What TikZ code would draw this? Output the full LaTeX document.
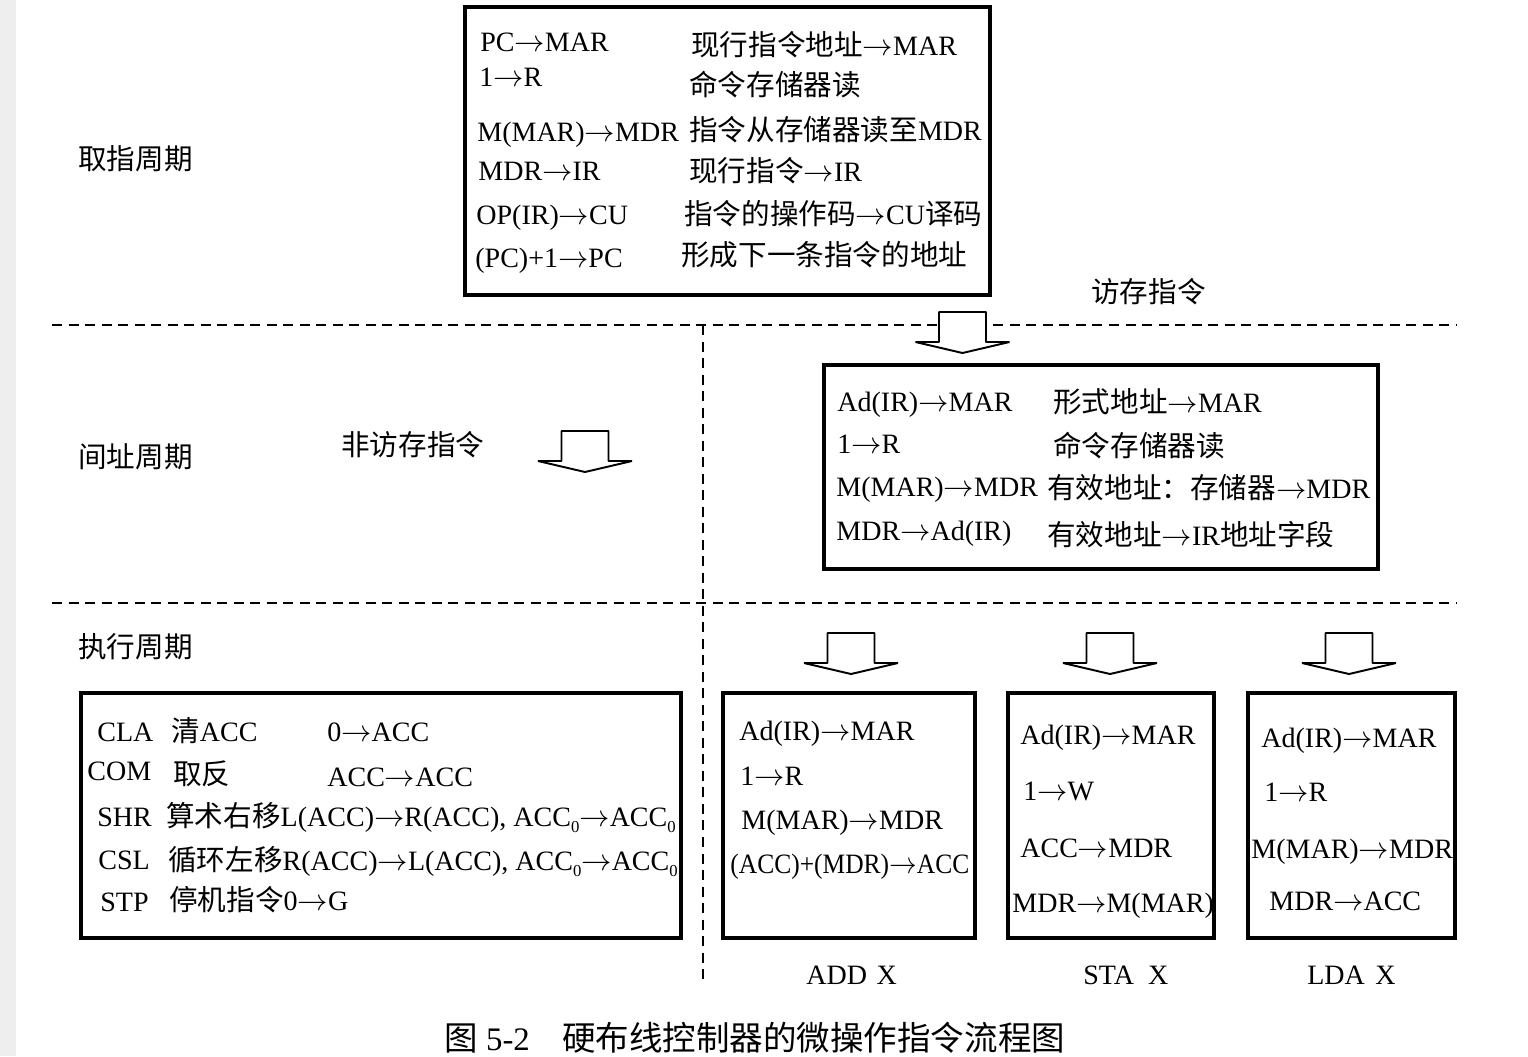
\documentclass[tikz,border=0pt]{standalone}
\usepackage{fontspec}
\usepackage{newunicodechar}
\setmainfont{Liberation Serif}
\newfontfamily\cjk[Scale=1.02]{Noto Sans CJK SC}
\newunicodechar{→}{$\rightarrow$}
\newcommand{\zh}[1]{{\cjk #1}}
\newcommand{\lowzero}{\raisebox{-3.5pt}{\fontsize{9.5}{10}\selectfont 0}}
\definecolor{stripgray}{HTML}{EEEEEE}
\tikzset{
  lbl/.style={anchor=base west,inner sep=0pt,font=\fontsize{15.95}{18}\selectfont},
  capt/.style={anchor=base west,inner sep=0pt,font=\fontsize{18.7}{22}\selectfont},
  stepbox/.style={draw,line width=1.8pt,inner sep=0pt},
  divider/.style={dash pattern=on 5.7pt off 3.7pt,line width=1pt},
  hollow/.pic={
    \draw[line width=1.1pt,fill=white,line join=bevel]
      (-23.5,0)--(23.5,0)--(23.5,30)--(47,30)--(0,41)--(-47,30)--(-23.5,30)--cycle;
  }
}
\begin{document}
\begin{tikzpicture}[x=0.02cm,y=-0.02cm]
\useasboundingbox (0,0) rectangle (1528,1056);
\fill[stripgray] (0,0) rectangle (16,1056);
% dashed phase boundaries
\coordinate (topl) at (52,325);
\coordinate (topr) at (1456,325);
\coordinate (midl) at (52,603);
\coordinate (midr) at (1456,603);
\coordinate (vtop) at (703,325);
\coordinate (vbot) at (703,985);
\draw[divider] (topl)--(topr);
\draw[divider] (midl)--(midr);
\draw[divider] (vtop)--(vbot);
% boxes
\foreach \nm/\l/\t/\r/\b in {fetchbox/465/7/990/295,indbox/824/365/1378/569,execbox/81/693/681/938,addbox/723/693/975/938,stabox/1008/693/1214/938,ldabox/1248/693/1455/938}{
  \node[stepbox,minimum width={(\r-\l)*0.02cm},minimum height={(\b-\t)*0.02cm}] (\nm) at ({(\l+\r)/2},{(\t+\b)/2}) {};
}
% hollow arrows
\foreach \x/\y in {962.5/312,585/431,851/633,1110/633,1349/633}{
  \pic at (\x,\y) {hollow};
}
% cycle names
\foreach \nm/\x/\y/\txt in {fetchlab/78/169/取指周期,indlab/78/467/间址周期,execlab/78/657/执行周期,nomem/341/455/非访存指令,mem/1091/302/访存指令}{
  \node[lbl] (\nm) at (\x,\y) {\zh{\txt}};
}
% fetch cycle
\foreach \x/\y/\txt [count=\i] in {
  480/51/{PC→MAR},479/86/{1→R},477/141/{M(MAR)→MDR},478/180/{MDR→IR},476/224/{OP(IR)→CU},475/267/{(PC)+1→PC},
  691/55/{\zh{现行指令地址}→MAR},689/95/{\zh{命令存储器读}},689/140/{\zh{指令从存储器读至}MDR},689/181/{\zh{现行指令}→IR},684/224/{\zh{指令的操作码}→CU\zh{译码}},681/265/{\zh{形成下一条指令的地址}}}{
  \node[lbl] (fetch\i) at (\x,\y) {\txt};
}
% indirect cycle
\foreach \x/\y/\txt [count=\i] in {
  837/411/{Ad(IR)→MAR},837/453/{1→R},836/496/{M(MAR)→MDR},836/540/{MDR→Ad(IR)},
  1053/412/{\zh{形式地址}→MAR},1053/456/{\zh{命令存储器读}},1047/498/{\zh{有效地址：存储器}→MDR},1047/545/{\zh{有效地址}→IR\zh{地址字段}}}{
  \node[lbl] (ind\i) at (\x,\y) {\txt};
}
% non-memory instructions
\foreach \x/\y/\txt [count=\i] in {
  97/741/{CLA},171/741/{\zh{清}ACC},327/741/{0→ACC},
  87/780/{COM},173/784/{\zh{取反}},327/786/{ACC→ACC},
  97/826/{SHR},166/826/{\zh{算术右移}L(ACC)→R(ACC), ACC\lowzero→ACC\lowzero},
  98/869/{CSL},168/870/{\zh{循环左移}R(ACC)→L(ACC), ACC\lowzero→ACC\lowzero},
  100/911/{STP},169/910/{\zh{停机指令}0→G}}{
  \node[lbl] (exec\i) at (\x,\y) {\txt};
}
% memory instructions
\foreach \x/\y/\txt [count=\i] in {
  739/740/{Ad(IR)→MAR},740/785/{1→R},741/829/{M(MAR)→MDR},730/873/{\scalebox{0.91}[1]{(ACC)+(MDR)→ACC}},
  1020/744/{Ad(IR)→MAR},1023/800/{1→W},1020/857/{ACC→MDR},1012/912/{MDR→M(MAR)},
  1261/747/{Ad(IR)→MAR},1264/801/{1→R},1251/858/{M(MAR)→MDR},1269/910/{MDR→ACC},
  806/984/{ADD\hspace{5.5pt}X},1083/984/{STA\ \ X},1307/984/{LDA\hspace{6pt}X}}{
  \node[lbl] (mem\i) at (\x,\y) {\txt};
}
% caption
\node[capt] (capnum) at (444,1050) {\zh{图} 5-2};
\node[capt] (captxt) at (562,1050) {\zh{硬布线控制器的微操作指令流程图}};
\end{tikzpicture}
\end{document}
